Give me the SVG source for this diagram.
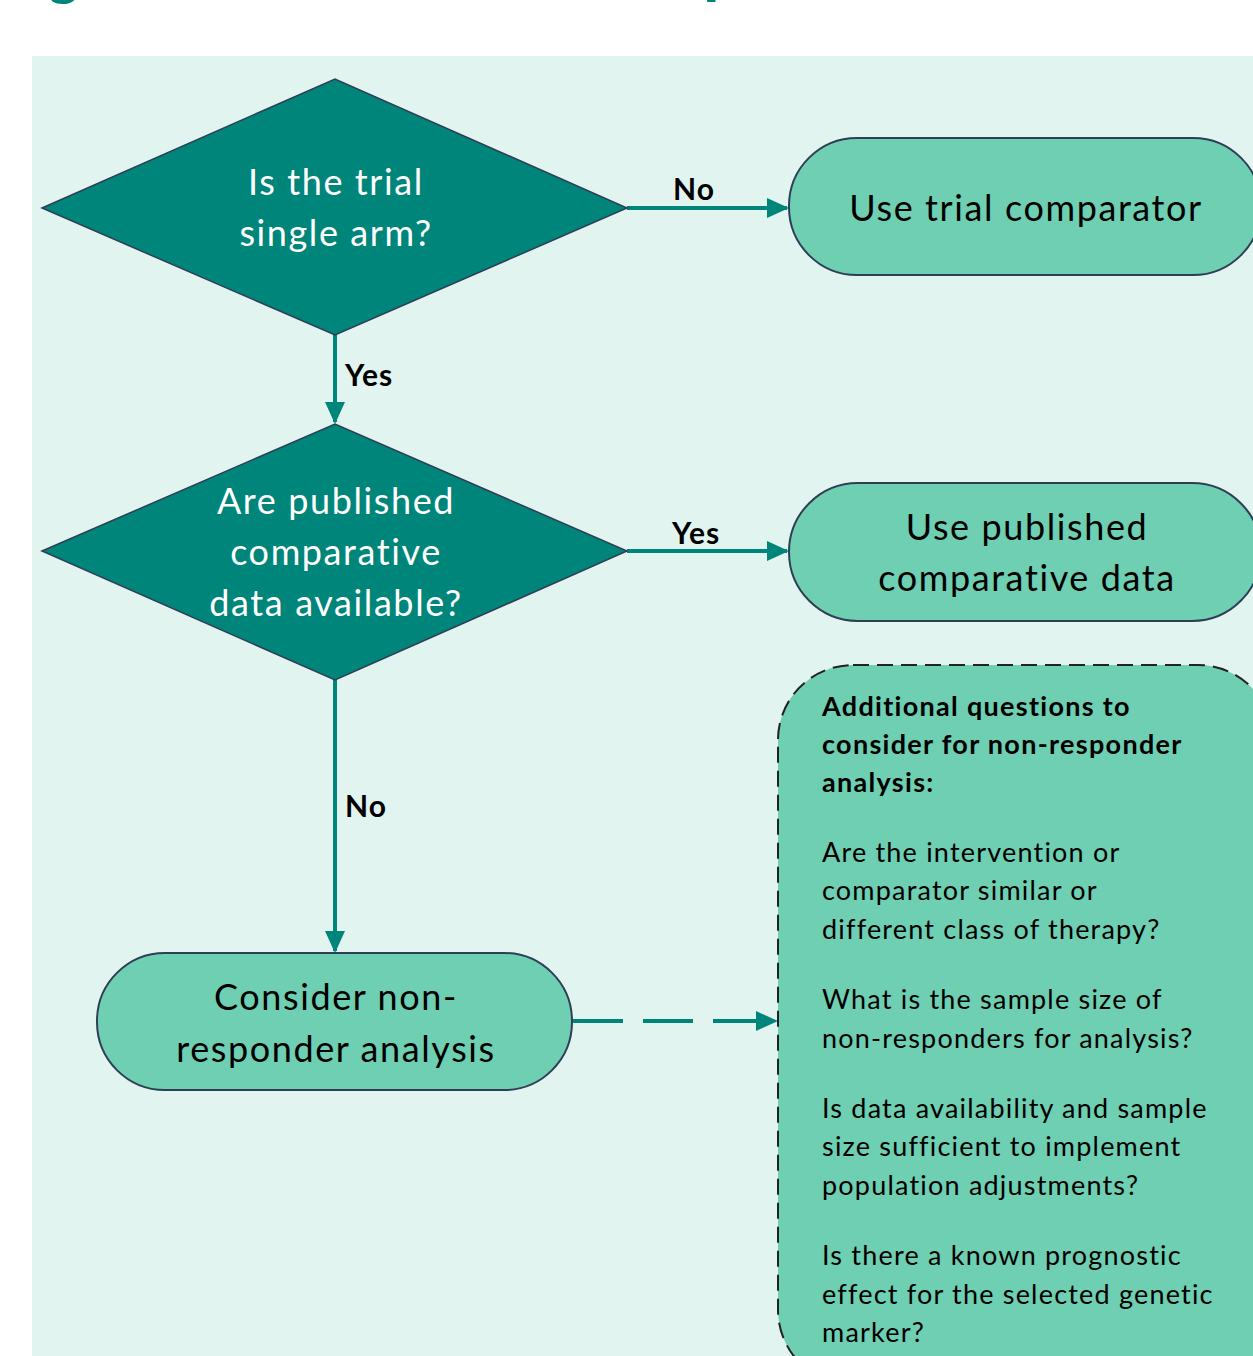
<svg xmlns="http://www.w3.org/2000/svg" width="1253" height="1356" viewBox="0 0 1253 1356">
<style>
.bg{fill:#e2f4ef}
.dia{fill:#00857a;stroke:#2e3e55;stroke-width:1.5}
.term{fill:#6ecfb2;stroke:#2e3e55;stroke-width:2}
.note{fill:#6ecfb2;stroke:#222;stroke-width:2;stroke-dasharray:16 8}
.wt{font-family:Lato,"Open Sans",sans-serif;font-size:36px;letter-spacing:1.6px;fill:#fff;text-anchor:middle}
.bt{font-family:Lato,"Open Sans",sans-serif;font-size:36px;letter-spacing:1.6px;fill:#000;text-anchor:middle}
.lbl{font-family:Lato,"Open Sans",sans-serif;font-size:30px;letter-spacing:1px;font-weight:bold;fill:#000}
.nt{font-family:Lato,"Open Sans",sans-serif;font-size:27px;letter-spacing:1.2px;fill:#000}
.ntb{font-family:Lato,"Open Sans",sans-serif;font-size:27px;letter-spacing:1.3px;font-weight:bold;fill:#000}
.conn{stroke:#00857a;stroke-width:4;fill:none}
.title{font-family:"Liberation Sans",Arial,sans-serif;font-size:60px;font-weight:bold;fill:#00857a}
</style>
<defs>
<marker id="arr" markerWidth="5.5" markerHeight="5" refX="5" refY="2.5" orient="auto" markerUnits="strokeWidth">
<path d="M0,0 L5.5,2.5 L0,5 Z" fill="#00857a"/>
</marker>
</defs>
<rect x="0" y="0" width="1253" height="1356" fill="#fff"/>
<text class="title" x="45" y="-8">g</text>
<text class="title" x="703" y="-10">p</text>
<rect class="bg" x="32" y="56" width="1221" height="1300"/>
<g id="connectors">
<line class="conn" x1="627" y1="208" x2="787" y2="208" marker-end="url(#arr)"/>
<line class="conn" x1="335" y1="335" x2="335" y2="422" marker-end="url(#arr)"/>
<line class="conn" x1="627" y1="551" x2="787" y2="551" marker-end="url(#arr)"/>
<line class="conn" x1="335" y1="680" x2="335" y2="951" marker-end="url(#arr)"/>
<line class="conn" x1="573" y1="1021" x2="776" y2="1021" stroke-dasharray="50 20" marker-end="url(#arr)"/>
<text class="lbl" x="673" y="200">No</text>
<text class="lbl" x="345" y="386">Yes</text>
<text class="lbl" x="672" y="544">Yes</text>
<text class="lbl" x="345" y="817">No</text>
</g>
<g id="d1">
<polygon class="dia" points="42,208 335,79 627,208 335,335"/>
<text class="wt" x="336" y="195">Is the trial</text>
<text class="wt" x="336" y="246">single arm?</text>
</g>
<g id="d2">
<polygon class="dia" points="42,551 335,424 627,551 335,680"/>
<text class="wt" x="336" y="514">Are published</text>
<text class="wt" x="336" y="565">comparative</text>
<text class="wt" x="336" y="616">data available?</text>
</g>
<g id="t1">
<rect class="term" x="789" y="138" width="472" height="137" rx="68"/>
<text class="bt" x="1026" y="221">Use trial comparator</text>
</g>
<g id="t2">
<rect class="term" x="789" y="483" width="472" height="138" rx="69"/>
<text class="bt" x="1027" y="540">Use published</text>
<text class="bt" x="1027" y="591">comparative data</text>
</g>
<g id="t3">
<rect class="term" x="97" y="953" width="475" height="137" rx="68"/>
<text class="bt" x="336" y="1010">Consider non-</text>
<text class="bt" x="336" y="1062">responder analysis</text>
</g>
<g id="note">
<rect class="note" x="778" y="665" width="495" height="720" rx="75"/>
<text class="ntb" x="822" y="716">Additional  questions to</text>
<text class="ntb" x="822" y="754">consider for non-responder</text>
<text class="ntb" x="822" y="792">analysis:</text>
<text class="nt" x="822" y="862">Are the intervention or</text>
<text class="nt" x="822" y="900">comparator similar or</text>
<text class="nt" x="822" y="939">different class of therapy?</text>
<text class="nt" x="822" y="1009">What is the sample size of</text>
<text class="nt" x="822" y="1048">non-responders for analysis?</text>
<text class="nt" x="822" y="1118">Is data availability and sample</text>
<text class="nt" x="822" y="1156">size sufficient to implement</text>
<text class="nt" x="822" y="1195">population adjustments?</text>
<text class="nt" x="822" y="1265">Is there a known prognostic</text>
<text class="nt" x="822" y="1304">effect for the selected genetic</text>
<text class="nt" x="822" y="1342">marker?</text>
</g>
</svg>
